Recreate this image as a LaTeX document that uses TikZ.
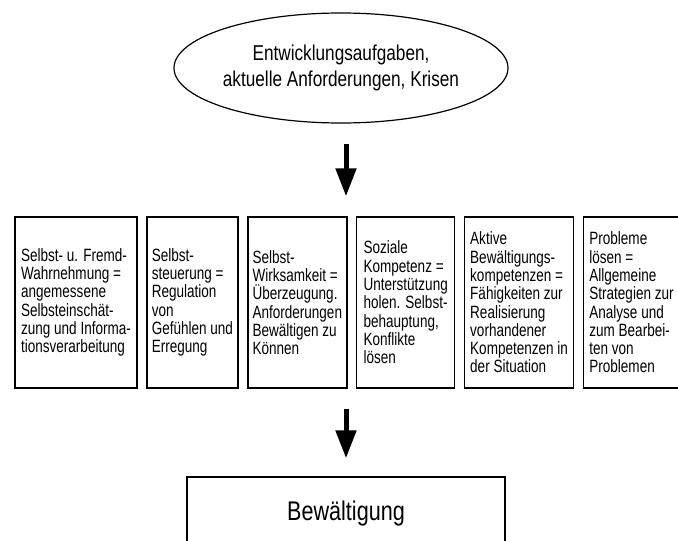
\documentclass[tikz,border=0pt]{standalone}
\usepackage{fontspec}
\setmainfont{Liberation Sans}[FakeStretch=0.8]
\newfontfamily\boxfont{Liberation Sans}[FakeStretch=0.76]
\usepackage{tikz}
\usetikzlibrary{positioning, arrows.meta, shapes.geometric}

\begin{document}
\begin{tikzpicture}[x=1pt, y=-1pt, node distance=8.5pt,
  task/.style={rectangle, draw, line width=1.4pt, minimum height=171pt, inner sep=0pt, align=left, font=\boxfont\fontsize{17.8}{18.3}\selectfont},
  bigarrow/.style={-{Triangle[length=28pt, width=20pt]}, line width=5pt}]
\useasboundingbox (0,0) rectangle (678,541);
\clip (0,0) rectangle (678,541);

% Top: the demands
\node (ell) [ellipse, draw, line width=1.2pt, minimum width=316pt, minimum height=110pt, inner sep=0pt, align=center, font=\fontsize{21.5}{26}\selectfont] at (341,68) {Entwicklungsaufgaben,\\aktuelle Anforderungen, Krisen};

% Resources
\node (b1) [task, minimum width=122pt] at (76,302.5) {Selbst- u. Fremd-\\Wahrnehmung =\\angemessene\\Selbsteinschät-\\zung und Informa-\\tionsverarbeitung};
\node (b2) [task, minimum width=91pt, right=of b1] {Selbst-\\steuerung =\\Regulation\\von\\Gefühlen und\\Erregung};
\node (b3) [task, minimum width=99pt, right=of b2] {Selbst-\\Wirksamkeit =\\Überzeugung.\\Anforderungen\\Bewältigen zu\\Können};
\node (b4) [task, minimum width=98pt, right=of b3] {Soziale\\Kompetenz =\\Unterstützung\\holen. Selbst-\\behauptung,\\Konflikte\\lösen};
\node (b5) [task, minimum width=109pt, right=of b4] {Aktive\\Bewältigungs-\\kompetenzen =\\Fähigkeiten zur\\Realisierung\\vorhandener\\Kompetenzen in\\der Situation};
\node (b6) [task, minimum width=96pt, right=of b5] {Probleme\\lösen =\\Allgemeine\\Strategien zur\\Analyse und\\zum Bearbei-\\ten von\\Problemen};

% Result
\node (bew) [rectangle, draw, line width=1.4pt, minimum width=318pt, minimum height=74pt, font=\fontsize{27}{30}\selectfont] at (346,514) {Bewältigung};

% Arrows
\draw[bigarrow, shorten <=20pt, shorten >=20pt] (bew |- ell.south) -- (bew |- b1.north);
\draw[bigarrow, shorten <=20pt, shorten >=18pt] (bew |- b1.south) -- (bew.north);

\end{tikzpicture}
\end{document}
